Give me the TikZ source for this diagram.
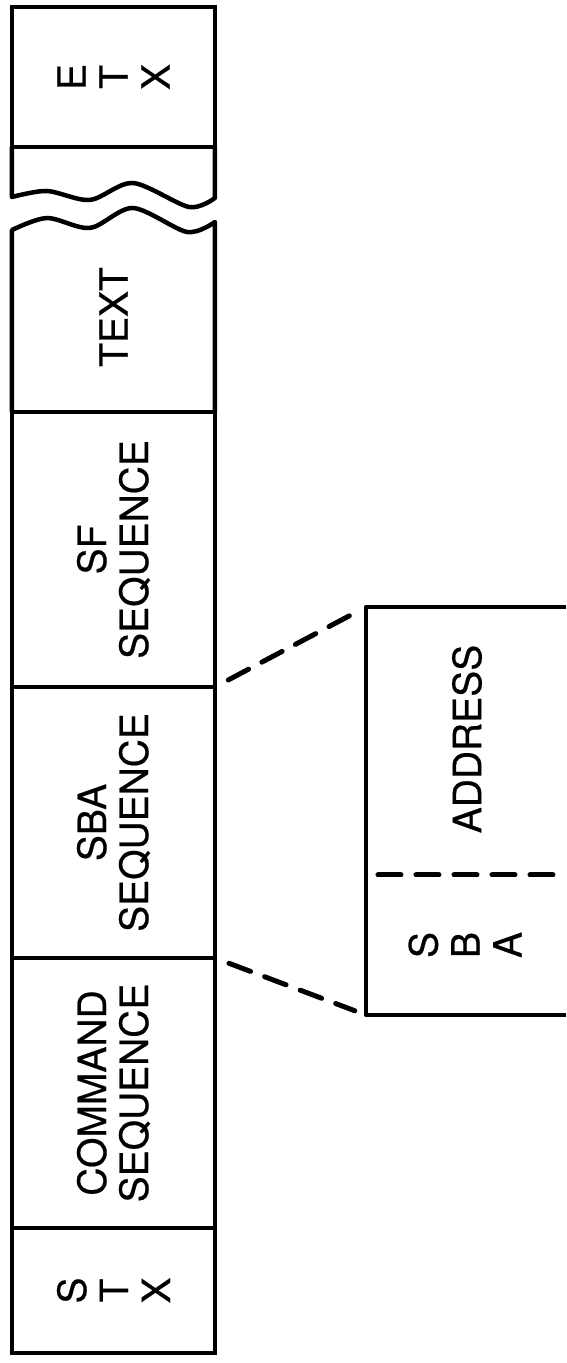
\documentclass[tikz,border=0pt]{standalone}
\usepackage{fontspec}
\setmainfont{TeX Gyre Heros}
\newfontfamily\blockfont{TeX Gyre Heros}[FakeBold=0.5]
\usetikzlibrary{positioning}

\begin{document}
\begin{tikzpicture}[x=1pt, y=1pt, rotate=90, transform shape,
                    field/.style={draw, line width=4pt, minimum height=203pt, inner sep=0pt, outer sep=0pt,
                                  align=center, font=\blockfont\fontsize{39}{42}\selectfont},
                    rim/.style={line width=4.5pt, line join=round},
                    cutline/.style={line width=5pt, line cap=round, dash pattern=on 23pt off 15pt}
]
\useasboundingbox (0,0) rectangle (1363,566);

% the block, left to right
\node [field, minimum width=125pt] at (72.5,452.5) (stx) {S\\T\\X};
\node [field, minimum width=270pt, right=0pt of stx] (cmd) {COMMAND\\SEQUENCE};
\node [field, minimum width=271pt, right=0pt of cmd] (sba) {SBA\\SEQUENCE};
\node [field, minimum width=275pt, right=0pt of sba] (sf) {SF\\SEQUENCE};
\node [field, draw=none, minimum width=190pt, right=0pt of sf] (txt) {TEXT};
\node [field, minimum width=140pt] at (1286,452.5) (etx) {E\\T\\X};
%
\draw[rim] (sf.north east) -- plot[smooth] coordinates {(1133,554) (1145,519) (1135,476) (1155,433) (1131,379) (1141,351)} -- (sf.south east);
\draw[rim] (etx.north west) -- plot[smooth] coordinates {(1166,554) (1172,519) (1163,476) (1180,433) (1156,377) (1165,351)} -- (etx.south west);

% the SBA sequence, opened out
\node [field, draw=none, minimum width=408pt, minimum height=200pt] at (552,100) (open) {};
\draw[rim] (open.south west) -- (open.north west) -- (open.north east) -- (open.south east);
\node [field, draw=none, minimum height=0pt] at (418,101) (sbachar) {S\\B\\A};
\node [field, draw=none, minimum height=0pt] at (624,99) (addr) {ADDRESS};
\coordinate (cut) at (488,200);
\draw[cutline] ([yshift=-12pt]cut) -- (cut |- open.south);
%
\draw[cutline, shorten <=15pt, shorten >=12pt] (sba.south west) -- (open.north west);
\draw[cutline, shorten <=15pt, shorten >=12pt] (sba.south east) -- (open.north east);
\end{tikzpicture}
\end{document}
